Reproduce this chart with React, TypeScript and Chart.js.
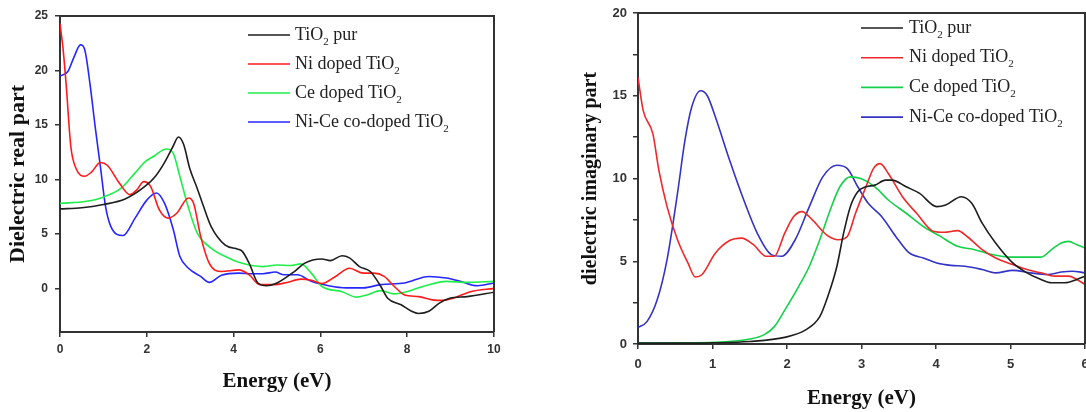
import React, { useEffect, useRef } from 'react';
import { Chart, registerables } from 'chart.js';

Chart.register(...registerables);

const seriesLabels = ['TiO₂ pur', 'Ni doped TiO₂', 'Ce doped TiO₂', 'Ni-Ce co-doped TiO₂'];

// ---- Left chart: dielectric real part ----
const realPurX = [0, 0.5, 1, 1.5, 1.97, 2.2, 2.4, 2.6, 2.73, 2.85, 2.99, 3.16, 3.3, 3.48, 3.8, 4.1, 4.2, 4.36, 4.56, 4.76, 5.0, 5.4, 5.63, 6.03, 6.23, 6.5, 6.67, 6.9, 7.15, 7.39, 7.55, 7.86, 8.1, 8.26, 8.5, 8.74, 8.98, 9.38, 10];
const realPurY = [7.3, 7.4, 7.7, 8.2, 9.4, 10.3, 11.5, 13.0, 13.9, 13.2, 11.0, 9.2, 7.6, 5.7, 4.0, 3.6, 3.4, 2.3, 0.5, 0.25, 0.5, 1.55, 2.3, 2.7, 2.55, 3.0, 2.8, 2.0, 1.55, 0.2, -0.9, -1.5, -2.1, -2.3, -2.1, -1.35, -0.9, -0.75, -0.35];

const realNiX = [0, 0.07, 0.14, 0.25, 0.37, 0.57, 0.73, 0.93, 1.09, 1.37, 1.61, 1.77, 1.93, 2.09, 2.29, 2.49, 2.69, 2.96, 3.08, 3.24, 3.44, 3.72, 4.12, 4.36, 4.6, 4.92, 5.23, 5.55, 5.79, 6.03, 6.35, 6.67, 6.99, 7.23, 7.47, 7.7, 7.94, 8.26, 8.58, 8.82, 9.06, 9.46, 10];
const realNiY = [24.3, 22.0, 18.8, 13.0, 11.0, 10.3, 10.7, 11.55, 11.3, 9.65, 8.6, 9.05, 9.8, 9.35, 7.2, 6.45, 6.9, 8.3, 7.8, 4.8, 2.3, 1.55, 1.7, 1.25, 0.35, 0.35, 0.55, 0.85, 0.75, 0.45, 1.1, 1.85, 1.4, 1.4, 1.1, 0.2, -0.6, -0.75, -1.05, -1.1, -0.9, -0.3, 0.0];

const realCeX = [0, 0.61, 1.01, 1.41, 1.73, 1.97, 2.17, 2.45, 2.61, 2.76, 2.96, 3.16, 3.48, 3.88, 4.2, 4.68, 5.0, 5.31, 5.55, 5.79, 6.03, 6.5, 6.83, 7.07, 7.39, 7.7, 7.94, 8.42, 8.9, 9.38, 10];
const realCeY = [7.8, 8.0, 8.4, 9.2, 10.6, 11.65, 12.15, 12.8, 12.4, 10.3, 7.4, 5.1, 3.7, 2.8, 2.3, 2.0, 2.15, 2.1, 2.25, 1.4, 0.2, -0.3, -0.8, -0.6, -0.2, -0.5, -0.35, 0.25, 0.65, 0.55, 0.65];

const realNiCeX = [0, 0.18, 0.33, 0.47, 0.57, 0.69, 0.81, 0.93, 1.05, 1.17, 1.45, 1.73, 2.0, 2.22, 2.41, 2.61, 2.76, 2.96, 3.24, 3.44, 3.72, 4.12, 4.44, 4.68, 4.96, 5.16, 5.47, 5.79, 6.19, 6.59, 6.99, 7.39, 7.94, 8.5, 8.9, 9.22, 9.62, 10];
const realNiCeY = [19.5, 19.9, 21.3, 22.35, 21.9, 18.8, 14.85, 11.2, 7.5, 5.7, 4.85, 6.45, 8.1, 8.75, 7.8, 5.4, 2.95, 1.85, 1.1, 0.55, 1.2, 1.4, 1.35, 1.35, 1.5, 1.25, 1.25, 0.65, 0.25, 0.05, 0.05, 0.35, 0.5, 1.1, 0.95, 0.65, 0.25, 0.5];

const realYTicks = [0, 5, 10, 15, 20, 25];

// ---- Right chart: dielectric imaginary part ----
const imagPurX = [0, 0.5, 1.0, 1.5, 1.97, 2.25, 2.44, 2.55, 2.67, 2.76, 2.85, 2.95, 3.06, 3.18, 3.32, 3.41, 3.6, 3.78, 4.01, 4.13, 4.34, 4.48, 4.62, 4.8, 5.03, 5.22, 5.41, 5.55, 5.73, 5.89, 6.0];
const imagPurY = [0.05, 0.05, 0.07, 0.15, 0.4, 0.85, 1.65, 2.9, 4.7, 6.7, 8.3, 9.2, 9.5, 9.6, 9.9, 9.9, 9.5, 9.1, 8.3, 8.4, 8.9, 8.5, 7.3, 6.1, 4.9, 4.3, 3.9, 3.7, 3.7, 3.9, 4.1];

const imagNiX = [0, 0.07, 0.2, 0.28, 0.39, 0.53, 0.67, 0.77, 0.86, 1.04, 1.23, 1.39, 1.55, 1.72, 1.83, 1.97, 2.09, 2.2, 2.34, 2.53, 2.69, 2.81, 2.92, 3.06, 3.16, 3.25, 3.36, 3.55, 3.74, 3.97, 4.11, 4.29, 4.43, 4.62, 4.8, 5.03, 5.22, 5.41, 5.59, 5.78, 5.89, 6.0];
const imagNiY = [16.1, 14.1, 12.7, 10.5, 8.3, 6.3, 4.9, 4.05, 4.2, 5.5, 6.25, 6.4, 6.0, 5.3, 5.3, 6.7, 7.7, 8.0, 7.5, 6.6, 6.3, 6.5, 7.9, 9.5, 10.6, 10.9, 10.3, 8.9, 7.9, 6.8, 6.75, 6.85, 6.45, 5.7, 5.2, 4.8, 4.5, 4.3, 4.1, 4.1, 3.9, 3.6];

const imagCeX = [0, 0.5, 1.04, 1.5, 1.69, 1.83, 1.97, 2.16, 2.3, 2.44, 2.58, 2.71, 2.85, 2.99, 3.18, 3.36, 3.6, 3.83, 4.06, 4.29, 4.52, 4.76, 4.99, 5.22, 5.41, 5.55, 5.68, 5.78, 5.89, 6.0];
const imagCeY = [0.05, 0.07, 0.1, 0.3, 0.55, 1.05, 2.05, 3.5, 4.7, 6.3, 8.1, 9.5, 10.1, 10.0, 9.5, 8.7, 7.9, 7.1, 6.5, 5.9, 5.7, 5.4, 5.25, 5.25, 5.25, 5.7, 6.1, 6.2, 6.0, 5.8];

const imagNiCeX = [0, 0.12, 0.26, 0.39, 0.53, 0.63, 0.72, 0.84, 0.93, 1.04, 1.23, 1.42, 1.6, 1.79, 1.93, 2.11, 2.3, 2.48, 2.67, 2.81, 2.95, 3.09, 3.27, 3.46, 3.64, 3.83, 4.01, 4.2, 4.39, 4.62, 4.8, 5.03, 5.27, 5.5, 5.68, 5.83, 6.0];
const imagNiCeY = [1.0, 1.35, 2.7, 5.1, 9.1, 12.3, 14.3, 15.3, 15.0, 13.7, 11.1, 8.7, 6.7, 5.4, 5.3, 6.3, 8.3, 10.1, 10.8, 10.6, 9.5, 8.5, 7.7, 6.5, 5.5, 5.2, 4.9, 4.75, 4.7, 4.5, 4.3, 4.45, 4.3, 4.2, 4.35, 4.4, 4.3];

const toPoints = (xs: number[], ys: number[]) => xs.map((x, i) => ({ x, y: ys[i] }));

const AXIS = '#333';
const TICK_FONT = '"Liberation Sans", Arial, sans-serif';
const SERIF = '"Liberation Serif", "Times New Roman", serif';

const insideLegend = {
  id: 'insideLegend',
  afterDraw(chart: any, _args: any, opts: any) {
    const ctx = chart.ctx;
    ctx.save();
    chart.data.datasets.forEach((ds: any, i: number) => {
      const y = opts.top + i * opts.spacing;
      ctx.strokeStyle = ds.borderColor;
      ctx.lineWidth = 1.6;
      ctx.beginPath();
      ctx.moveTo(opts.left, y);
      ctx.lineTo(opts.left + opts.lineLen, y);
      ctx.stroke();
      let x = opts.left + opts.lineLen + opts.gap;
      const parts = String(ds.label).split('₂');
      ctx.fillStyle = '#222';
      ctx.textBaseline = 'middle';
      ctx.textAlign = 'left';
      parts.forEach((p: string, j: number) => {
        ctx.font = `${opts.size}px ${SERIF}`;
        ctx.fillText(p, x, y);
        x += ctx.measureText(p).width;
        if (j < parts.length - 1) {
          ctx.font = `${Math.round(opts.size * 0.62)}px ${SERIF}`;
          ctx.fillText('2', x, y + opts.size * 0.38);
          x += ctx.measureText('2').width;
        }
      });
    });
    ctx.restore();
  },
};

const frameBox = {
  id: 'frameBox',
  afterDatasetsDraw(chart: any) {
    const { ctx, chartArea } = chart;
    ctx.save();
    ctx.strokeStyle = AXIS;
    ctx.lineWidth = 2;
    ctx.beginPath();
    ctx.moveTo(chartArea.left, chartArea.top);
    ctx.lineTo(chartArea.right, chartArea.top);
    ctx.lineTo(chartArea.right, chartArea.bottom);
    ctx.stroke();
    ctx.restore();
  },
};

function makeDatasets(sets: { x: number[]; y: number[] }[], colors: string[]) {
  return sets.map((s, i) => ({
    label: seriesLabels[i],
    data: toPoints(s.x, s.y),
    borderColor: colors[i],
    backgroundColor: colors[i],
    borderWidth: 1.6,
    pointRadius: 0,
    cubicInterpolationMode: 'monotone' as const,
    fill: false,
  }));
}

function ChartCanvas({ config }: { config: any }) {
  const ref = useRef<HTMLCanvasElement | null>(null);
  useEffect(() => {
    if (!ref.current) return;
    const chart = new Chart(ref.current, config);
    return () => chart.destroy();
  }, []);
  return <canvas ref={ref} width={543} height={412} style={{ display: 'block', width: 543, height: 412 }} />;
}

const leftConfig = {
  type: 'line',
  data: {
    datasets: makeDatasets(
      [
        { x: realPurX, y: realPurY },
        { x: realNiX, y: realNiY },
        { x: realCeX, y: realCeY },
        { x: realNiCeX, y: realNiCeY },
      ],
      ['#1e1e1e', '#ff1a1a', '#1fee4a', '#2626ff']
    ),
  },
  plugins: [insideLegend, frameBox],
  options: {
    responsive: false,
    animation: false,
    devicePixelRatio: 1,
    layout: { padding: { top: 16, right: 49, bottom: 0, left: 0 } },
    plugins: {
      legend: { display: false },
      tooltip: { enabled: false },
      insideLegend: { left: 248, top: 35, spacing: 29, lineLen: 42, gap: 5, size: 18 },
    },
    scales: {
      x: {
        type: 'linear',
        min: 0,
        max: 10,
        ticks: { stepSize: 2, color: AXIS, padding: 5, maxRotation: 0, font: { family: TICK_FONT, size: 12, weight: 'bold' } },
        grid: { drawOnChartArea: false, tickLength: 5, color: AXIS, lineWidth: 1.5 },
        border: { color: AXIS, width: 2 },
        title: { display: true, text: 'Energy (eV)', color: '#111', font: { family: SERIF, size: 21, weight: 'bold', lineHeight: 1 }, padding: { top: 0, bottom: 20 } },
        afterFit(s: any) { s.height = 80; s.paddingLeft = 0; s.paddingRight = 0; },
      },
      y: {
        type: 'linear',
        min: -4,
        max: 25,
        afterBuildTicks(s: any) { s.ticks = realYTicks.map((v) => ({ value: v })); },
        ticks: { color: AXIS, padding: 7, font: { family: TICK_FONT, size: 12, weight: 'bold' } },
        grid: { drawOnChartArea: false, tickLength: 5, color: AXIS, lineWidth: 1.5 },
        border: { color: AXIS, width: 2 },
        title: { display: true, text: 'Dielectric real part', color: '#111', font: { family: SERIF, size: 22, weight: 'bold', lineHeight: 1 }, padding: { top: 7, bottom: 0 } },
        afterFit(s: any) { s.width = 60; s.paddingTop = 0; s.paddingBottom = 0; },
      },
    },
  },
};

const rightConfig = {
  type: 'line',
  data: {
    datasets: makeDatasets(
      [
        { x: imagPurX, y: imagPurY },
        { x: imagNiX, y: imagNiY },
        { x: imagCeX, y: imagCeY },
        { x: imagNiCeX, y: imagNiCeY },
      ],
      ['#1e1e1e', '#ec2a2a', '#14d04a', '#3434c4']
    ),
  },
  plugins: [insideLegend, frameBox],
  options: {
    responsive: false,
    animation: false,
    devicePixelRatio: 1,
    layout: { padding: { top: 13, right: 1, bottom: 0, left: 0 } },
    plugins: {
      legend: { display: false },
      tooltip: { enabled: false },
      insideLegend: { left: 318, top: 28, spacing: 29.7, lineLen: 42, gap: 6, size: 18 },
    },
    scales: {
      x: {
        type: 'linear',
        min: 0,
        max: 6,
        ticks: { stepSize: 1, color: AXIS, padding: 8, maxRotation: 0, font: { family: TICK_FONT, size: 13, weight: 'bold' } },
        grid: { drawOnChartArea: false, tickLength: 5, color: AXIS, lineWidth: 1.5 },
        border: { color: AXIS, width: 2 },
        title: { display: true, text: 'Energy (eV)', color: '#111', font: { family: SERIF, size: 21, weight: 'bold', lineHeight: 1 }, padding: { top: 0, bottom: 3 } },
        afterFit(s: any) { s.height = 68; s.paddingLeft = 0; s.paddingRight = 0; },
      },
      y: {
        type: 'linear',
        min: 0,
        max: 20,
        ticks: {
          stepSize: 2.5,
          color: AXIS,
          padding: 6,
          font: { family: TICK_FONT, size: 13, weight: 'bold' },
          callback: (v: number) => (v % 5 === 0 ? String(v) : ''),
        },
        grid: { drawOnChartArea: false, tickLength: 5, color: AXIS, lineWidth: 1.5 },
        border: { color: AXIS, width: 2 },
        title: { display: true, text: 'dielectric imaginary part', color: '#111', font: { family: SERIF, size: 20, weight: 'bold', lineHeight: 1 }, padding: { top: 38, bottom: 0 } },
        afterFit(s: any) { s.width = 95; s.paddingTop = 0; s.paddingBottom = 0; },
      },
    },
  },
};

export default function App() {
  return (
    <div style={{ position: 'absolute', left: 0, top: 0, width: 1086, height: 412, display: 'flex', background: '#fff' }}>
      <ChartCanvas config={leftConfig} />
      <ChartCanvas config={rightConfig} />
    </div>
  );
}
